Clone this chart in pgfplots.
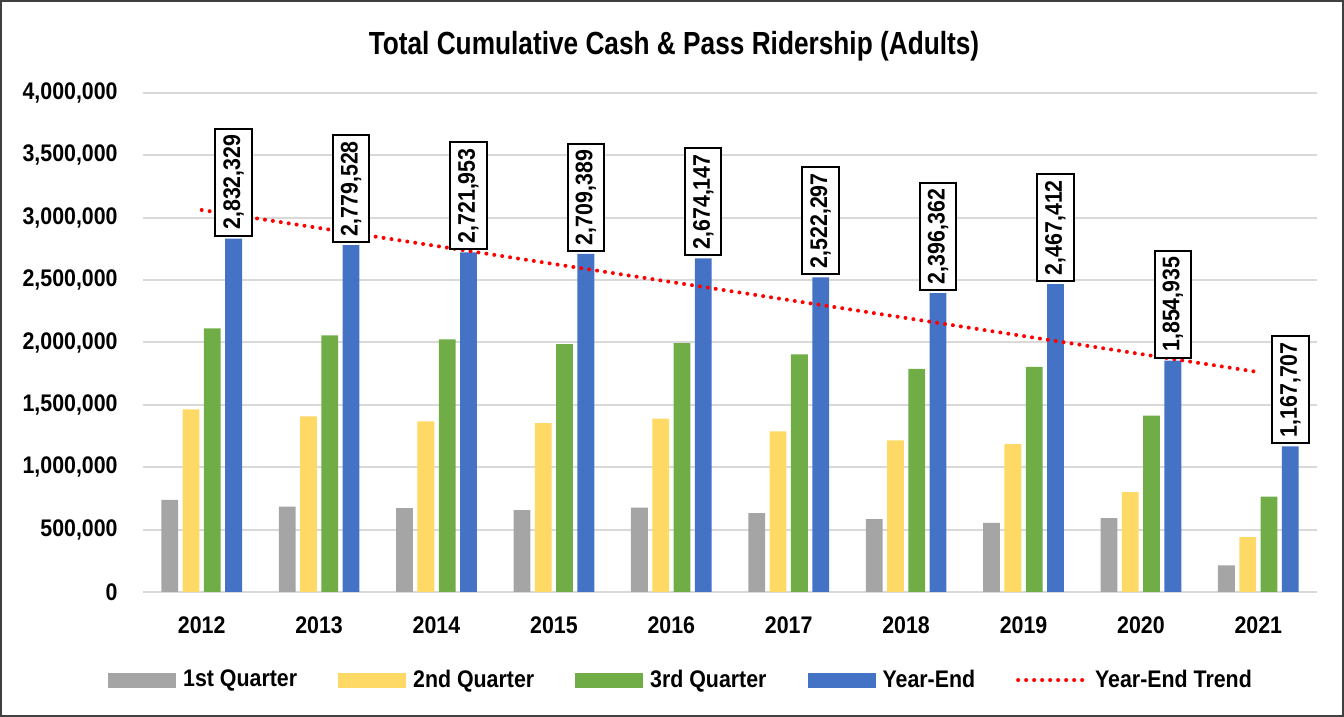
\documentclass[border=0pt]{standalone}
\usepackage{fontspec}
\setmainfont{Liberation Sans}[FakeStretch=0.89]
\newfontfamily\titlefont{Liberation Sans}[FakeStretch=0.82]
\usepackage{pgfplots}
\usepackage{pgfplotstable}
\pgfplotsset{compat=1.18}
\definecolor{q1}{HTML}{A5A5A5}
\definecolor{q2}{HTML}{FFD966}
\definecolor{q3}{HTML}{70AD47}
\definecolor{ye}{HTML}{4472C4}
\definecolor{gridc}{HTML}{D9D9D9}
\pgfplotsset{
  barleg/.style={legend image code/.code={\fill[##1] (0pt,-3.75pt) rectangle (34pt,3.75pt);}},
  lineleg/.style={legend image code/.code={\draw[##1] (0pt,0pt) -- (34pt,0pt);}}
}

\pgfplotstableread{
x q1 q2 q3 ye label
0 738000 1464000 2114000 2832329 2,832,329
1 685000 1408000 2058000 2779528 2,779,528
2 672000 1368000 2026000 2721953 2,721,953
3 656000 1354000 1986000 2709389 2,709,389
4 677000 1389000 1994000 2674147 2,674,147
5 632000 1288000 1904000 2522297 2,522,297
6 584000 1216000 1789000 2396362 2,396,362
7 554000 1186000 1805000 2467412 2,467,412
8 592000 800000 1413000 1854935 1,854,935
9 213000 440000 765000 1167707 1,167,707
}\data

\pgfplotstableread{
x y
0 3062172
9 1763040
}\trend

\begin{document}
\begin{tikzpicture}
\begin{axis}[
  name=ax, at={(0,0)}, anchor=south west,
  scale only axis, width=587pt, height=249.5pt,
  xmin=-0.5, xmax=9.5, ymin=0, ymax=4000000,
  ytick={0,500000,1000000,1500000,2000000,2500000,3000000,3500000,4000000},
  xtick={0,1,2,3,4,5,6,7,8,9},
  xticklabels={2012,2013,2014,2015,2016,2017,2018,2019,2020,2021},
  ymajorgrids, grid style={gridc, line width=1pt},
  axis line style={draw=none}, tick style={draw=none},
  scaled y ticks=false,
  yticklabel style={/pgf/number format/fixed, /pgf/number format/1000 sep={,}, /pgf/number format/assume math mode=true},
  ticklabel style={font=\fontsize{12}{14}\selectfont\bfseries},
  yticklabel style={inner sep=0pt, xshift=-12.5pt},
  xticklabel style={inner sep=0pt, yshift=-12pt},
  legend columns=5,
  legend style={draw=none, fill=none, at={(0.4604,-0.1764)}, anchor=center,
    font=\fontsize{12}{14}\selectfont\bfseries,
    /tikz/every even column/.append style={column sep=17pt},
    nodes={inner sep=3.5pt}},
]
\addplot[ybar, bar width=8.4pt, bar shift=-15.975pt, fill=q1, draw=none, barleg] table[x=x, y=q1]{\data};
\addlegendentry{1st Quarter}
\addplot[ybar, bar width=8.4pt, bar shift=-5.325pt, fill=q2, draw=none, barleg] table[x=x, y=q2]{\data};
\addlegendentry{2nd Quarter}
\addplot[ybar, bar width=8.4pt, bar shift=5.325pt, fill=q3, draw=none, barleg] table[x=x, y=q3]{\data};
\addlegendentry{3rd Quarter}
\addplot[ybar, bar width=8.4pt, bar shift=15.975pt, fill=ye, draw=none, barleg,
  nodes near coords, point meta=explicit symbolic,
  every node near coord/.append style={xshift=15.975pt, yshift=1pt, rotate=90, anchor=west, draw=black, fill=white,
    line width=1pt, inner xsep=3pt, inner ysep=4pt, text=black,
    font=\fontsize{12}{14}\selectfont\bfseries}]
  table[x=x, y=ye, meta=label]{\data};
\addlegendentry{Year-End}
\addplot[sharp plot, color=red, line width=2pt, dash pattern=on 0pt off 4pt, line cap=round, lineleg]
  table[x=x, y=y]{\trend};
\addlegendentry{Year-End Trend}
\end{axis}
\node[font=\fontsize{16}{19}\selectfont\titlefont\bfseries] at ([shift={(265.5pt,273pt)}]ax.south west)
  {Total Cumulative Cash \& Pass Ridership (Adults)};
\draw[line width=1pt, black!75] ([shift={(-71pt,-62pt)}]ax.south west) rectangle ([shift={(600pt,295.5pt)}]ax.south west);
\end{tikzpicture}
\end{document}
